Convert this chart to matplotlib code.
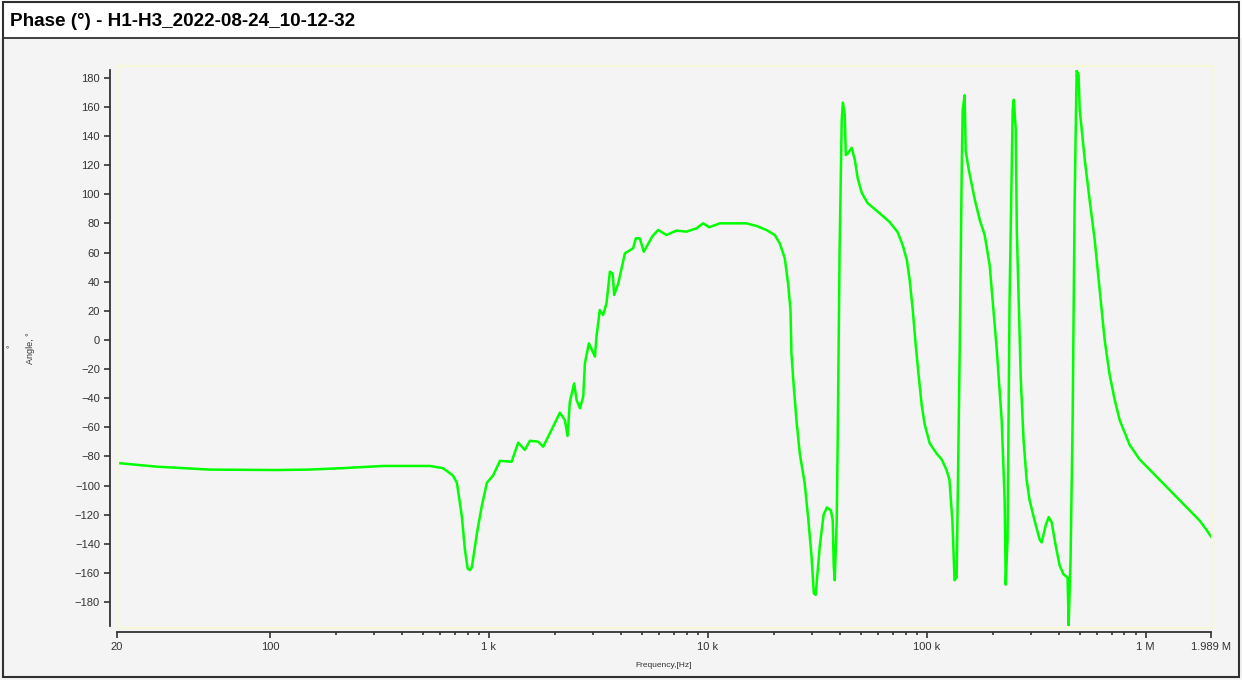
import matplotlib
matplotlib.use("Agg")
import matplotlib.pyplot as plt
from matplotlib.patches import Rectangle
from matplotlib.ticker import FixedLocator, NullFormatter

plt.rcParams['font.family'] = ['Liberation Sans', 'DejaVu Sans']

# Phase response H1-H3 (frequency in Hz, phase in degrees)
freq = [20.2, 30.5, 53, 107, 150, 215, 328, 449, 537, 617, 684, 714, 752, 777,
        800, 820, 836, 883, 928, 979, 1045, 1123, 1270, 1361, 1460, 1539, 1679,
        1770, 1898, 2110, 2223, 2287, 2343, 2451, 2515, 2605, 2697, 2745, 2862,
        3050, 3100, 3210, 3325, 3445, 3570, 3674, 3735, 3898, 4082, 4180, 4560,
        4690, 4890, 5100, 5590, 5930, 6480, 7190, 7990, 8880, 9520, 10140, 11340,
        13520, 15020, 16690, 18540, 20220, 21300, 22470, 23260, 23860, 24100,
        24700, 25400, 26300, 27700, 28700, 29700, 30500, 31100, 31900, 32500,
        33800, 35000, 36500, 37200, 37600, 38000, 38800, 39200, 39600, 40000,
        40900, 41400, 42200, 42700, 43600, 44500, 45400, 46900, 48400, 50500,
        53700, 61000, 67700, 73700, 77700, 81100, 83600, 86300, 89000, 91800,
        94900, 97900, 103200, 111000, 117000, 123000, 127000, 131000, 134000,
        137000, 138500, 141500, 144500, 146000, 149000, 150700, 154000, 157000,
        166000, 175000, 184000, 194000, 200000, 209000, 215000, 220000, 227000,
        229500, 234000, 239000, 247000, 250000, 255000, 258000, 263000, 269000,
        277000, 286000, 295000, 311000, 328000, 335000, 350000, 361000, 372000,
        388000, 405000, 422000, 440000, 445000, 454000, 464000, 474000, 484000,
        494000, 500000, 510000, 527000, 555000, 585000, 617000, 650000, 685000,
        722000, 761000, 845000, 939000, 1043000, 1159000, 1287000, 1430000,
        1588000, 1765000, 1899000, 1989000]
phase = [-84.5, -87, -89, -89.3, -89, -88, -86.5, -86.5, -86.5, -88, -93, -98,
         -121, -144, -157, -158, -156, -132, -114, -98, -93, -83, -83.6, -70.5,
         -75.5, -69.2, -69.8, -73.3, -64.1, -49.9, -55, -65.9, -42.4, -29.8,
         -41.2, -46.9, -38.9, -16, -2.3, -11.4, 2.3, 20.6, 17.2, 25.2, 46.9,
         45.7, 30.9, 38.9, 52.7, 59.5, 63, 69.8, 69.8, 60.6, 71.4, 75.5, 72.1,
         75.1, 74.4, 76.7, 80.1, 77.4, 80.1, 80.1, 80.1, 78.3, 75.5, 72.1, 66.4,
         56.1, 38.9, 20.6, -9.2, -32.1, -54.9, -77.8, -98.4, -121.3, -146.5,
         -174, -175, -155.7, -141, -120, -115, -117, -124, -155, -165, -124,
         -69, 0, 62, 151, 163, 155, 127, 128, 130, 132, 124, 111, 101, 94, 87,
         81, 74, 65, 55, 41, 21, -3, -24, -45, -58, -71, -78, -82, -89, -96,
         -124, -165, -163, -110, -7, 117, 158, 168, 130, 121, 114, 96, 82, 72,
         51, 27, -7, -34, -55, -110, -168, -137, 27, 158, 165, 145, 75, 27, -27,
         -69, -96, -110, -124, -137, -139, -127, -121.6, -125, -141, -155, -161,
         -163, -196, -151, -55, 96, 185, 182, 158, 145, 124, 96, 69, 34, 0, -24,
         -41, -55, -72, -82, -89, -96, -103, -110, -117, -124, -130.5, -135]

major_ticks = [20, 100, 1e3, 1e4, 1e5, 1e6, 1.989e6]
major_labels = ['20', '100', '1 k', '10 k', '100 k', '1 M', '1.989 M']
minor_ticks = [m * d for d in (100, 1e3, 1e4, 1e5) for m in range(2, 10)]
y_ticks = list(range(-180, 181, 20))

W, H = 1242, 680
fig = plt.figure(figsize=(W / 100, H / 100), dpi=100, facecolor='#f4f4f4')

# title bar and outer frame
fig.patches.append(Rectangle((0, 1 - 38 / H), 1, 38 / H, transform=fig.transFigure,
                             facecolor='white', edgecolor='none', zorder=0))
fig.add_artist(plt.Line2D([3 / W, 1239 / W], [1 - 38 / H, 1 - 38 / H],
                          color='#202020', lw=1.2))
fig.patches.append(Rectangle((3 / W, 3 / H), 1236 / W, 675 / H, transform=fig.transFigure,
                             facecolor='none', edgecolor='#303030', lw=1.5, zorder=5))
fig.text(10 / W, 1 - 22 / H, 'Phase (°) - H1-H3_2022-08-24_10-12-32',
         fontsize=13.6, fontweight='bold', va='center', ha='left', color='black')

ax = fig.add_axes([117 / W, 1 - 626 / H, 1094 / W, 556 / H])
ax.set_facecolor('none')

# pale plot-area border
fig.patches.append(Rectangle((118 / W, 1 - 628 / H), 1094 / W, 562 / H,
                             transform=fig.transFigure, facecolor='none',
                             edgecolor='#f6f6d8', lw=1.6, zorder=1))

ax.plot(freq, phase, color='#00ff00', lw=1.8, zorder=3)

ax.set_xscale('log')
ax.set_xlim(20, 1.989e6)
ax.set_ylim(-196.4, 185.4)

ax.xaxis.set_major_locator(FixedLocator(major_ticks))
ax.set_xticklabels(major_labels)
ax.xaxis.set_minor_locator(FixedLocator(minor_ticks))
ax.xaxis.set_minor_formatter(NullFormatter())
ax.set_yticks(y_ticks)

for side in ('top', 'right'):
    ax.spines[side].set_visible(False)
ax.spines['left'].set_position(('outward', 5))
ax.spines['bottom'].set_position(('outward', 4.3))
for side in ('left', 'bottom'):
    ax.spines[side].set_color('#333333')
    ax.spines[side].set_linewidth(1.3)

ax.tick_params(axis='both', which='major', labelsize=8, colors='#333333',
               length=4.3, width=1.2, pad=3)
ax.tick_params(axis='x', which='minor', length=2.2, width=1.2, colors='#333333')

ax.set_xlabel('Frequency,[Hz]', fontsize=6, color='#333333')
ax.xaxis.set_label_coords(0.5, -0.065)
ax.set_ylabel('Angle, °', fontsize=6.5, color='#333333')
ax.yaxis.set_label_coords(-0.075, 0.5)
fig.text(11 / W, 1 - 346 / H, '°', fontsize=6.5, rotation=90, color='#333333',
         ha='center', va='center')

fig.savefig('out.png', dpi=100, facecolor=fig.get_facecolor())
